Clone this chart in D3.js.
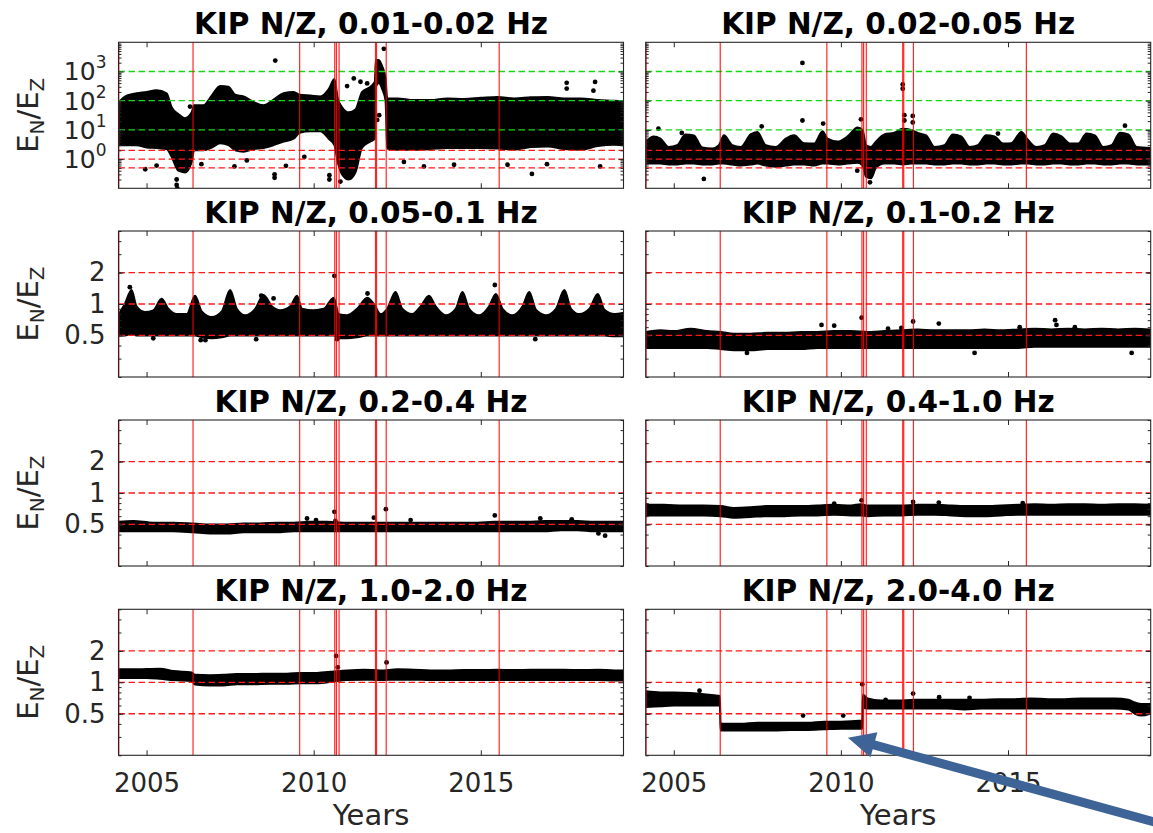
<!DOCTYPE html>
<html>
<head>
<meta charset="utf-8">
<script src="https://cdn.jsdelivr.net/npm/d3@7"></script>
<style>
body{margin:0;background:#fff;}
svg{display:block;font-family:"DejaVu Sans",sans-serif;}
</style>
</head>
<body>
<svg id="chart" width="1153" height="833"></svg>
<script>
// ---- data ----
var titles = ["KIP N/Z, 0.01-0.02 Hz", "KIP N/Z, 0.02-0.05 Hz", "KIP N/Z, 0.05-0.1 Hz", "KIP N/Z, 0.1-0.2 Hz",
              "KIP N/Z, 0.2-0.4 Hz", "KIP N/Z, 0.4-1.0 Hz", "KIP N/Z, 1.0-2.0 Hz", "KIP N/Z, 2.0-4.0 Hz"];
var xTicks = [2005, 2010, 2015];
var yTicksTop = [1, 10, 100, 1000];
var yTicksLow = [0.5, 1, 2];
var greenRefs = [10, 100, 1000];
var redRefs = [0.5, 1, 2];
var eventYears = [2004.17, 2006.39, 2009.58, 2010.63, 2010.68, 2010.76, 2011.85, 2011.88, 2012.17, 2015.55];

// point cloud envelope: [year, low, high]
var p1Band = [[2004.17,3,90],[2004.4,3,150],[2004.7,3,180],[2005.0,2.5,200],[2005.3,2.4,230],[2005.6,2.2,180],
  [2005.75,1.2,60],[2005.95,0.4,35],[2006.15,0.35,25],[2006.35,0.8,40],[2006.42,2.0,70],[2006.7,2.0,70],
  [2006.95,2.5,150],[2007.2,3.5,320],[2007.45,3,300],[2007.65,2,160],[2007.9,1.8,140],[2008.2,2.2,90],
  [2008.5,2.4,70],[2008.8,3,110],[2009.1,4,180],[2009.4,5,200],[2009.58,8,160],[2009.9,9,150],[2010.2,9,140],
  [2010.45,5,250],[2010.62,3,550],[2010.72,0.8,120],[2010.85,0.3,60],[2011.05,0.2,40],[2011.25,0.35,50],
  [2011.45,2.5,200],[2011.7,4,300],[2011.83,5,450],[2011.86,300,2500],[2011.95,400,2500],[2012.05,250,1500],
  [2012.15,100,600],[2012.2,2.3,120],[2012.5,2.1,120],[2013.0,2.1,105],[2013.5,2.2,105],[2014.0,2.4,120],
  [2014.5,2.4,115],[2015.0,2.4,125],[2015.5,2.3,135],[2016.0,2.1,120],[2016.5,2.6,130],[2017.0,2.7,135],
  [2017.5,2.2,120],[2018.0,2.1,120],[2018.5,2.8,105],[2019.0,3.1,100],[2019.25,3.0,95]];
var p2Band = [[2004.17,0.7,4],[2004.4,0.7,6],[2004.6,0.7,5],[2004.85,0.65,2.6],[2005.1,0.65,3],[2005.35,0.7,7],
  [2005.6,0.7,6.5],[2005.85,0.65,2.5],[2006.15,0.65,2.3],[2006.35,0.7,3],[2006.5,0.7,6.5],[2006.75,0.65,3],
  [2007.0,0.6,2.6],[2007.3,0.65,7],[2007.5,0.7,8.5],[2007.75,0.6,3],[2008.05,0.55,2.6],[2008.35,0.6,5],
  [2008.6,0.65,6.5],[2008.9,0.65,3.5],[2009.2,0.6,3.4],[2009.45,0.7,9],[2009.6,0.7,5],[2009.9,0.65,4],
  [2010.2,0.7,6],[2010.5,0.75,12],[2010.65,0.6,10],[2010.75,0.25,3],[2010.9,0.22,2.6],[2011.05,0.5,4],
  [2011.3,0.7,7],[2011.6,0.7,8],[2011.85,0.65,11],[2012.1,0.7,10],[2012.35,0.7,7.5],[2012.55,0.7,6.5],
  [2012.8,0.65,2.6],[2013.1,0.65,3],[2013.35,0.7,7],[2013.6,0.7,6],[2013.85,0.65,2.6],[2014.1,0.65,3],
  [2014.35,0.7,6.5],[2014.6,0.7,6],[2014.85,0.65,3.4],[2015.1,0.65,3.5],[2015.4,0.7,8.5],[2015.6,0.7,4.5],
  [2015.85,0.65,2.6],[2016.1,0.65,3],[2016.35,0.7,7.5],[2016.6,0.7,6],[2016.85,0.65,3.4],[2017.1,0.65,3.4],
  [2017.35,0.7,7.5],[2017.6,0.7,6.5],[2017.85,0.65,2.6],[2018.1,0.65,3],[2018.35,0.7,8],[2018.6,0.7,7],
  [2018.85,0.65,2.6],[2019.25,0.65,2.4]];
var p3Band = [[2004.17,0.5,0.8],[2004.35,0.5,1.0],[2004.55,0.52,1.36],[2004.7,0.5,0.95],[2004.95,0.5,0.84],
  [2005.2,0.5,0.87],[2005.45,0.5,1.12],[2005.65,0.5,0.9],[2005.9,0.5,0.8],[2006.2,0.5,0.8],[2006.45,0.5,1.2],
  [2006.65,0.48,0.85],[2006.95,0.47,0.75],[2007.25,0.48,0.85],[2007.5,0.5,1.36],[2007.7,0.5,0.9],
  [2007.95,0.5,0.78],[2008.25,0.5,0.9],[2008.5,0.5,1.22],[2008.75,0.5,0.95],[2009.0,0.5,0.87],[2009.3,0.5,0.95],
  [2009.5,0.5,1.2],[2009.65,0.5,0.9],[2010.0,0.5,0.87],[2010.3,0.5,0.9],[2010.6,0.5,1.15],[2010.75,0.47,0.8],
  [2011.0,0.47,0.78],[2011.3,0.48,0.9],[2011.6,0.5,1.15],[2011.8,0.5,1.0],[2012.0,0.5,0.8],[2012.2,0.5,0.9],
  [2012.45,0.5,1.3],[2012.65,0.5,0.9],[2012.95,0.5,0.8],[2013.2,0.5,0.95],[2013.45,0.5,1.2],[2013.65,0.5,0.95],
  [2013.95,0.5,0.78],[2014.25,0.5,0.9],[2014.45,0.5,1.3],[2014.65,0.5,0.9],[2014.95,0.5,0.78],[2015.25,0.5,0.95],
  [2015.45,0.5,1.25],[2015.65,0.5,0.9],[2015.95,0.5,0.78],[2016.25,0.5,0.95],[2016.45,0.5,1.3],[2016.65,0.5,0.88],
  [2016.95,0.5,0.78],[2017.25,0.5,0.9],[2017.5,0.5,1.36],[2017.7,0.5,0.9],[2017.95,0.5,0.8],[2018.25,0.5,0.9],
  [2018.5,0.5,1.25],[2018.7,0.5,0.88],[2019.0,0.49,0.8],[2019.25,0.49,0.82]];
var p4Band = [[2004.17,0.38,0.54],[2004.6,0.38,0.56],[2005.0,0.38,0.55],[2005.5,0.38,0.58],[2006.0,0.38,0.55],
  [2006.4,0.37,0.54],[2006.8,0.36,0.52],[2007.3,0.36,0.52],[2007.8,0.37,0.53],[2008.3,0.37,0.53],[2008.8,0.37,0.54],
  [2009.3,0.38,0.54],[2009.8,0.38,0.55],[2010.3,0.38,0.55],[2010.8,0.38,0.54],[2011.3,0.38,0.55],[2011.8,0.38,0.56],
  [2012.3,0.38,0.57],[2012.8,0.38,0.56],[2013.3,0.38,0.56],[2013.8,0.38,0.56],[2014.3,0.38,0.57],[2014.8,0.38,0.56],
  [2015.3,0.38,0.57],[2015.8,0.39,0.58],[2016.3,0.39,0.57],[2016.8,0.39,0.58],[2017.3,0.39,0.57],[2017.8,0.39,0.58],
  [2018.3,0.39,0.57],[2018.8,0.39,0.58],[2019.25,0.39,0.57]];
var p5Band = [[2004.17,0.43,0.53],[2004.6,0.43,0.54],[2005.2,0.43,0.52],[2005.8,0.43,0.52],[2006.4,0.42,0.51],
  [2006.9,0.41,0.5],[2007.4,0.41,0.5],[2007.9,0.42,0.51],[2008.4,0.42,0.51],[2008.9,0.42,0.52],[2009.4,0.43,0.52],
  [2009.9,0.43,0.53],[2010.4,0.43,0.53],[2010.9,0.43,0.52],[2011.4,0.43,0.52],[2011.9,0.43,0.52],[2012.4,0.43,0.52],
  [2012.9,0.43,0.52],[2013.4,0.43,0.52],[2013.9,0.43,0.52],[2014.4,0.43,0.52],[2014.9,0.43,0.52],[2015.4,0.43,0.53],
  [2015.9,0.43,0.53],[2016.4,0.43,0.53],[2016.9,0.43,0.54],[2017.4,0.44,0.54],[2017.9,0.44,0.54],[2018.4,0.43,0.53],
  [2018.9,0.43,0.53],[2019.25,0.43,0.53]];
var p6Band = [[2004.17,0.61,0.77],[2004.7,0.61,0.77],[2005.3,0.61,0.76],[2005.9,0.61,0.76],[2006.4,0.6,0.75],
  [2006.8,0.58,0.72],[2007.3,0.59,0.73],[2007.8,0.6,0.75],[2008.3,0.6,0.75],[2008.8,0.61,0.75],[2009.3,0.61,0.76],
  [2009.8,0.62,0.77],[2010.3,0.61,0.76],[2010.6,0.61,0.78],[2010.8,0.6,0.76],[2011.3,0.61,0.76],[2011.8,0.61,0.76],
  [2012.3,0.62,0.77],[2012.8,0.62,0.77],[2013.3,0.61,0.76],[2013.8,0.6,0.75],[2014.3,0.6,0.75],[2014.8,0.61,0.76],
  [2015.3,0.62,0.77],[2015.8,0.62,0.78],[2016.3,0.62,0.77],[2016.8,0.62,0.78],[2017.3,0.62,0.78],[2017.8,0.62,0.77],
  [2018.3,0.62,0.78],[2018.8,0.62,0.78],[2019.25,0.62,0.77]];
var p7Band = [[2004.17,1.1,1.33],[2004.6,1.1,1.33],[2005.0,1.1,1.34],[2005.4,1.08,1.35],[2005.8,1.05,1.28],
  [2006.35,1.03,1.24],[2006.45,0.95,1.18],[2006.9,0.93,1.17],[2007.3,0.93,1.18],[2007.7,0.96,1.2],[2008.2,0.96,1.2],
  [2008.7,0.97,1.21],[2009.2,0.97,1.21],[2009.6,0.98,1.23],[2010.1,0.98,1.23],[2010.6,1.02,1.27],[2011.0,1.05,1.3],
  [2011.5,1.06,1.32],[2012.0,1.05,1.3],[2012.5,1.06,1.33],[2013.0,1.06,1.32],[2013.5,1.05,1.3],[2014.0,1.05,1.3],
  [2014.5,1.05,1.31],[2015.0,1.05,1.31],[2015.5,1.05,1.32],[2016.0,1.05,1.31],[2016.5,1.05,1.32],[2017.0,1.05,1.32],
  [2017.5,1.05,1.32],[2018.0,1.05,1.31],[2018.5,1.05,1.32],[2019.0,1.04,1.3],[2019.25,1.04,1.3]];
var p8Band = [[2004.17,0.58,0.82],[2004.6,0.59,0.8],[2005.0,0.6,0.8],[2005.5,0.6,0.79],[2005.9,0.6,0.77],
  [2006.2,0.6,0.75],[2006.38,0.6,0.74],[2006.4,0.345,0.4],[2007.0,0.345,0.4],[2007.5,0.345,0.41],[2008.0,0.345,0.41],
  [2008.5,0.35,0.41],[2009.0,0.35,0.41],[2009.5,0.355,0.42],[2010.0,0.36,0.42],[2010.64,0.36,0.43],[2010.66,0.57,0.76],
  [2010.8,0.56,0.7],[2011.2,0.56,0.67],[2011.7,0.56,0.67],[2012.2,0.56,0.68],[2012.7,0.56,0.68],[2013.2,0.56,0.68],
  [2013.7,0.55,0.68],[2014.2,0.56,0.68],[2014.7,0.56,0.69],[2015.2,0.56,0.69],[2015.7,0.56,0.7],[2016.2,0.56,0.69],
  [2016.7,0.56,0.69],[2017.2,0.56,0.7],[2017.7,0.56,0.7],[2018.2,0.56,0.7],[2018.6,0.55,0.68],[2018.8,0.5,0.64],
  [2019.0,0.48,0.62],[2019.25,0.5,0.62]];

// isolated points: [year, value]
var p1Out = [[2008.85,2370],[2017.57,410],[2017.57,260],[2018.42,440],[2018.37,220],[2016.53,0.31],[2008.83,0.23],
  [2008.83,0.3],[2004.96,0.45],[2005.9,0.13],[2005.9,0.2],[2005.92,0.1],[2010.47,0.2],[2010.47,0.28],[2010.8,0.17],
  [2011.2,580],[2011.4,445],[2011.6,390],[2011.0,316],[2011.9,22],[2011.96,32],[2012.1,6000],[2006.3,63],[2014.2,0.64],
  [2015.8,0.64],[2016.98,0.67],[2013.3,0.56],[2018.57,0.56],[2007.63,0.56],[2009.17,0.59],[2009.72,1.2],[2006.64,0.67],
  [2005.3,0.6],[2008.0,0.9],[2012.7,0.8]];
var p2Out = [[2008.85,1970],[2011.85,360],[2011.85,257],[2011.9,32],[2011.9,21],[2008.85,21],[2010.6,23],[2018.5,14],
  [2009.47,16.5],[2007.63,13.3],[2004.54,11],[2005.24,7.9],[2010.87,0.16],[2010.49,0.4],[2005.9,0.21],[2014.7,7.5],
  [2012.15,30],[2012.15,18]];
var p3Out = [[2010.62,1.86],[2015.42,1.52],[2006.76,0.45],[2006.62,0.45],[2005.2,0.47],[2008.28,0.46],[2011.61,1.26],
  [2008.43,1.2],[2008.8,1.13],[2016.63,0.46],[2010.7,0.46],[2004.5,1.45]];
var p4Out = [[2010.62,0.74],[2009.42,0.63],[2009.8,0.62],[2012.16,0.68],[2012.93,0.65],[2016.41,0.70],[2014.0,0.34],
  [2007.19,0.34],[2018.7,0.34],[2011.41,0.58],[2011.81,0.59],[2016.45,0.63],[2017.0,0.6],[2015.35,0.6]];
var p5Out = [[2009.8,0.57],[2010.07,0.55],[2010.62,0.66],[2010.65,0.54],[2011.8,0.58],[2012.16,0.70],[2012.9,0.55],
  [2015.42,0.61],[2016.78,0.57],[2017.72,0.56],[2018.72,0.39],[2018.52,0.41]];
var p6Out = [[2010.62,0.85],[2009.8,0.79],[2012.16,0.82],[2012.93,0.81],[2015.44,0.8]];
var p7Out = [[2010.67,1.79],[2010.72,1.39],[2012.18,1.55]];
var p8Out = [[2010.64,0.96],[2005.77,0.83],[2008.87,0.48],[2010.07,0.48],[2011.34,0.68],[2012.16,0.78],[2012.94,0.72],
  [2013.85,0.71]];

// arrow annotation, tip in data coords of the last panel
var arrowTip = [2010.21, 0.295];

var bands = [p1Band, p2Band, p3Band, p4Band, p5Band, p6Band, p7Band, p8Band];
var outs = [p1Out, p2Out, p3Out, p4Out, p5Out, p6Out, p7Out, p8Out];

// ---- layout ----
var colX = [118.5, 645.7], plotW = 505;
var rowY = [42.3, 231, 420, 609.3], plotH = 146;
var axisColor = "#262626";

var svg = d3.select("#chart");
var x = d3.scaleLinear().domain([2004.16, 2019.27]).range([0, plotW]);
var yTop = d3.scaleLog().domain([0.1, 10000]).range([plotH, 0]);
var yLow = d3.scaleLog().domain([0.2, 5]).range([plotH, 0]);

svg.append("defs").append("clipPath").attr("id", "clip")
  .append("rect").attr("width", plotW).attr("height", plotH);

function minorTicks(y){
    var out = [];
    var d = y.domain();
    y.ticks(20).forEach(function(t){
        var m = t / Math.pow(10, Math.floor(Math.log10(t) + 1e-9));
        if (Math.abs(m - 1) > 1e-6 && t >= d[0] && t <= d[1]) out.push(t);
    });
    return out;
}

for (var i = 0; i < 8; i++){
    var col = i % 2, row = Math.floor(i / 2);
    var y = row === 0 ? yTop : yLow;
    var g = svg.append("g").attr("transform", "translate(" + colX[col] + "," + rowY[row] + ")");
    var plot = g.append("g").attr("clip-path", "url(#clip)");

    // dense cloud
    var area = d3.area().curve(d3.curveMonotoneX).x(function(d){ return x(d[0]); })
        .y0(function(d){ return y(d[1]); }).y1(function(d){ return y(d[2]); });
    plot.append("path").datum(bands[i]).attr("d", area)
        .attr("fill", "#000").attr("stroke", "#000").attr("stroke-width", 2).attr("stroke-linejoin", "round");
    plot.selectAll("circle.pt").data(outs[i]).join("circle").attr("class", "pt")
        .attr("cx", function(d){ return x(d[0]); }).attr("cy", function(d){ return y(d[1]); })
        .attr("r", 2.4).attr("fill", "#000");

    // reference levels
    if (row === 0){
        plot.selectAll("line.gr").data(greenRefs).join("line").attr("class", "gr")
            .attr("x1", 0).attr("x2", plotW).attr("y1", y).attr("y2", y)
            .attr("stroke", "#19d619").attr("stroke-width", 1.3).attr("stroke-dasharray", "6.5,3.5");
    }
    plot.selectAll("line.rd").data(redRefs).join("line").attr("class", "rd")
        .attr("x1", 0).attr("x2", plotW).attr("y1", y).attr("y2", y)
        .attr("stroke", "#ff1a1a").attr("stroke-width", 1.3).attr("stroke-dasharray", "6.5,3.5");

    // event lines
    plot.selectAll("line.ev").data(eventYears).join("line").attr("class", "ev")
        .attr("x1", x).attr("x2", x).attr("y1", 0).attr("y2", plotH)
        .attr("stroke", "#ff0000").attr("stroke-width", 1.2).attr("stroke-opacity", 0.85);

    // axes (ticks point inward)
    g.append("g").attr("transform", "translate(0," + plotH + ")")
        .call(d3.axisBottom(x).tickValues(xTicks).tickSize(-5).tickSizeOuter(0).tickPadding(18)
            .tickFormat(row === 3 ? d3.format("d") : ""));
    g.append("g").call(d3.axisTop(x).tickValues(xTicks).tickSize(-5).tickSizeOuter(0).tickFormat(""));
    g.append("g")
        .call(d3.axisLeft(y).tickValues(row === 0 ? yTicksTop : yTicksLow).tickSize(-5).tickSizeOuter(0).tickPadding(13)
            .tickFormat(row === 0 || col === 1 ? "" : function(d){ return String(d); }));
    g.append("g").call(d3.axisLeft(y).tickValues(minorTicks(y)).tickSize(-3).tickSizeOuter(0).tickFormat(""));
    g.append("g").attr("transform", "translate(" + plotW + ",0)")
        .call(d3.axisRight(y).tickValues(row === 0 ? yTicksTop : yTicksLow).tickSize(-5).tickSizeOuter(0).tickFormat(""));
    g.append("g").attr("transform", "translate(" + plotW + ",0)")
        .call(d3.axisRight(y).tickValues(minorTicks(y)).tickSize(-3).tickSizeOuter(0).tickFormat(""));
    g.selectAll(".domain").remove();
    g.selectAll(".tick line").attr("stroke", axisColor);
    g.selectAll(".tick text").attr("fill", axisColor).attr("font-size", 26)
        .attr("font-family", "DejaVu Sans, sans-serif");

    // 10^k labels for the top-left panel
    if (row === 0 && col === 0){
        yTicksTop.forEach(function(v){
            var t = g.append("text").attr("x", -12).attr("y", y(v) + 9).attr("text-anchor", "end")
                .attr("fill", axisColor).attr("font-size", 25);
            t.append("tspan").text("10");
            t.append("tspan").attr("dy", -12).attr("font-size", 17).text(Math.round(Math.log10(v)));
        });
    }

    g.append("rect").attr("width", plotW).attr("height", plotH)
        .attr("fill", "none").attr("stroke", axisColor).attr("stroke-width", 1.1);

    g.append("text").attr("x", plotW / 2).attr("y", -8).attr("text-anchor", "middle")
        .attr("font-size", 29.5).attr("font-weight", "bold").attr("fill", "#000").text(titles[i]);

    if (col === 0){
        var yl = svg.append("text")
            .attr("transform", "translate(38," + (rowY[row] + plotH / 2) + ") rotate(-90)")
            .attr("text-anchor", "middle").attr("font-size", 29).attr("fill", axisColor);
        yl.append("tspan").text("E");
        yl.append("tspan").attr("dy", 6).attr("font-size", 20).text("N");
        yl.append("tspan").attr("dy", -6).text("/E");
        yl.append("tspan").attr("dy", 6).attr("font-size", 20).text("Z");
    }
    if (row === 3){
        svg.append("text").attr("x", colX[col] + plotW / 2).attr("y", 825).attr("text-anchor", "middle")
            .attr("font-size", 29).attr("fill", axisColor).text("Years");
    }
}

// blue arrow pointing to the 2006-2010 segment
var tipX = colX[1] + x(arrowTip[0]), tipY = rowY[3] + yLow(arrowTip[1]);
var ang = Math.atan2(84, 305) * 180 / Math.PI;
var L = 360, hl = 27, hw = 13, sw = 4.5;
svg.append("path")
    .attr("transform", "translate(" + tipX + "," + tipY + ") rotate(" + ang + ")")
    .attr("d", "M0,0 L" + hl + "," + (-hw) + " L" + hl + "," + (-sw) + " L" + L + "," + (-sw) +
               " L" + L + "," + sw + " L" + hl + "," + sw + " L" + hl + "," + hw + " Z")
    .attr("fill", "#3d6397");
</script>
</body>
</html>
